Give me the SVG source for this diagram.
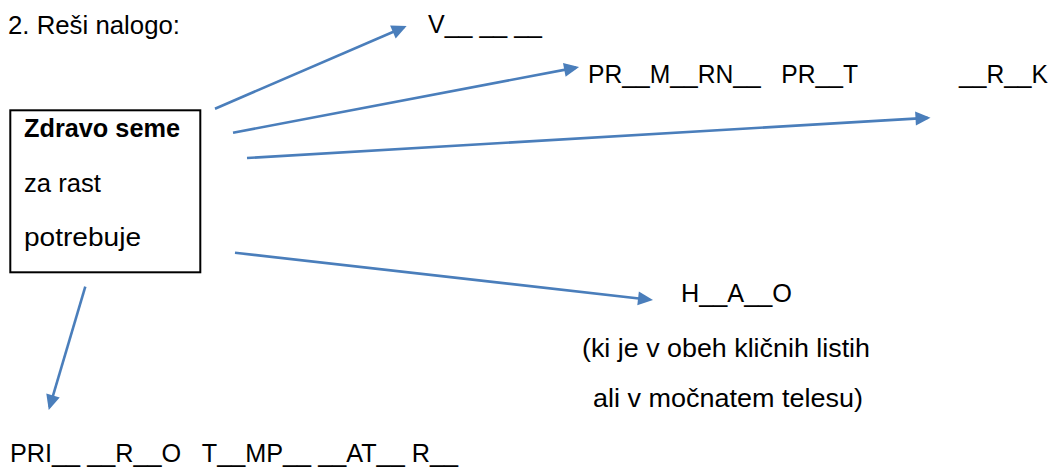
<svg xmlns="http://www.w3.org/2000/svg" width="1055" height="470" viewBox="0 0 1055 470">
<style>
.t{font-family:"Liberation Sans",Arial,sans-serif;font-size:26px;fill:#000;}
.b{font-weight:bold;}
.c{stroke:#4A7EBB;stroke-width:2.6;fill:none;marker-end:url(#ah);}
</style>
<defs>
<marker id="ah" markerUnits="userSpaceOnUse" markerWidth="18" markerHeight="18" refX="12" refY="7" orient="auto" overflow="visible">
<path d="M0,0 L15,7 L0,14 Z" fill="#4A7EBB"/>
</marker>
</defs>
<rect width="1055" height="470" fill="#fff"/>
<g id="title"><text class="t" x="8" y="34" textLength="172" lengthAdjust="spacingAndGlyphs">2. Reši nalogo:</text></g>
<g id="seed">
<rect x="10.3" y="110.3" width="190" height="162" fill="none" stroke="#000" stroke-width="2"/>
<text class="t b" x="24" y="137" textLength="156" lengthAdjust="spacingAndGlyphs">Zdravo seme</text>
<text class="t" x="24" y="192" textLength="77" lengthAdjust="spacingAndGlyphs">za rast</text>
<text class="t" x="24" y="246" textLength="117" lengthAdjust="spacingAndGlyphs">potrebuje</text>
</g>
<g id="voda"><text class="t" x="428" y="33" textLength="114" lengthAdjust="spacingAndGlyphs" xml:space="preserve">V__ __ __</text></g>
<g id="zrak">
<text class="t" x="588" y="83" textLength="270" lengthAdjust="spacingAndGlyphs" xml:space="preserve">PR__M__RN__   PR__T</text>
</g>
<g id="zrak2"><text class="t" x="959" y="83" textLength="89" lengthAdjust="spacingAndGlyphs">__R__K</text></g>
<g id="hrana">
<text class="t" x="681" y="302" textLength="111" lengthAdjust="spacingAndGlyphs">H__A__O</text>
<text class="t" x="582" y="357" textLength="288" lengthAdjust="spacingAndGlyphs">(ki je v obeh kličnih listih</text>
<text class="t" x="593" y="407" textLength="270" lengthAdjust="spacingAndGlyphs">ali v močnatem telesu)</text>
</g>
<g id="temp">
<text class="t" x="10" y="462" textLength="448" lengthAdjust="spacingAndGlyphs" xml:space="preserve">PRI__ __R__O   T__MP__ __AT__ R__</text>
</g>
<g id="connectors">
<line class="c" x1="215" y1="108.7" x2="403.9" y2="27.2"/>
<line class="c" x1="233" y1="132.7" x2="576.1" y2="67.6"/>
<line class="c" x1="247" y1="158" x2="927.5" y2="117.9"/>
<line class="c" x1="235" y1="252.7" x2="650" y2="299.7"/>
<line class="c" x1="85.3" y1="286.7" x2="49.6" y2="407.1"/>
</g>
</svg>
